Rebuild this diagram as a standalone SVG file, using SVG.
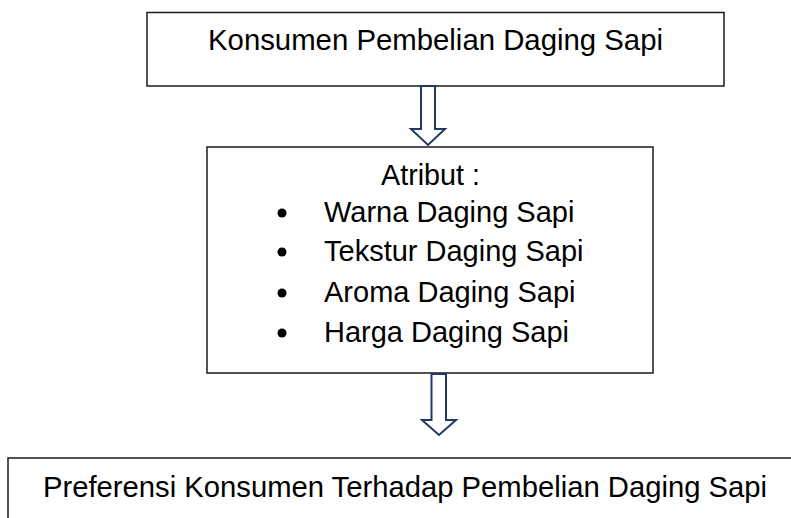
<svg xmlns="http://www.w3.org/2000/svg" width="791" height="518" viewBox="0 0 791 518">
<style>
.box{fill:#fff;stroke:#1a1a1a;stroke-width:1.5}
.t{font-family:"Liberation Sans",Arial,sans-serif;font-size:29px;fill:#000}
.arr{fill:#fff;stroke:#1f3864;stroke-width:2;stroke-linejoin:miter}
</style>
<rect width="791" height="518" fill="#fff"/>
<g id="node-konsumen">
<rect class="box" x="147" y="12.5" width="577" height="73.5"/>
<text class="t" x="208" y="50" textLength="455" lengthAdjust="spacingAndGlyphs">Konsumen Pembelian Daging Sapi</text>
</g>
<g id="node-atribut">
<rect class="box" x="207" y="147" width="446" height="226"/>
<text class="t" x="381" y="185" textLength="99" lengthAdjust="spacingAndGlyphs">Atribut :</text>
<circle cx="282" cy="213" r="4.5" fill="#000"/>
<text class="t" x="324" y="221.5">Warna Daging Sapi</text>
<circle cx="282" cy="252" r="4.5" fill="#000"/>
<text class="t" x="324" y="260.5">Tekstur Daging Sapi</text>
<circle cx="282" cy="293" r="4.5" fill="#000"/>
<text class="t" x="324" y="301.5">Aroma Daging Sapi</text>
<circle cx="282" cy="333" r="4.5" fill="#000"/>
<text class="t" x="324" y="341.5">Harga Daging Sapi</text>
</g>
<g id="node-preferensi">
<rect class="box" x="8" y="458" width="800" height="80"/>
<text class="t" x="43" y="496.5" textLength="724" lengthAdjust="spacingAndGlyphs">Preferensi Konsumen Terhadap Pembelian Daging Sapi</text>
</g>
<g id="connectors">
<path class="arr" d="M421,86 L435,86 L435,129 L445,129 L428,145 L411,129 L421,129 Z"/>
<path class="arr" d="M431.5,374 L446,374 L446,420 L456,420 L439,435 L422,420 L431.5,420 Z"/>
</g>
</svg>
